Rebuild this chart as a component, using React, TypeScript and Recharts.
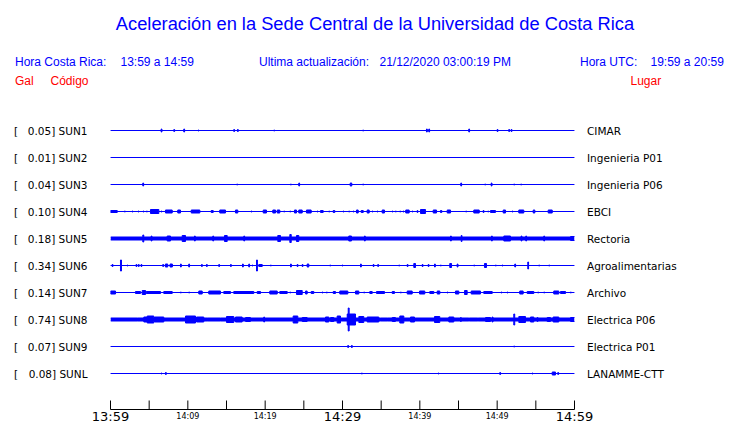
import { ComposedChart, Area, XAxis, YAxis } from "recharts";

// station list, top to bottom
const codes = ["SUN1", "SUN2", "SUN3", "SUN4", "SUN5", "SUN6", "SUN7", "SUN8", "SUN9", "SUNL"];
const peaks = ["0.05", "0.01", "0.04", "0.10", "0.18", "0.34", "0.14", "0.74", "0.07", "0.08"];
const places = [
  "CIMAR",
  "Ingenieria P01",
  "Ingenieria P06",
  "EBCI",
  "Rectoria",
  "Agroalimentarias",
  "Archivo",
  "Electrica P06",
  "Electrica P01",
  "LANAMME-CTT",
];
// background noise level of each trace
const noise = [0, 0, 0, 0, 2, 0, 0, 2, 0, 0];

// minutes after 13:59
const minuteTicks = [0, 5, 10, 15, 20, 25, 30, 35, 40, 45, 50, 55, 60];
const tickLabels = ["13:59", "", "14:09", "", "14:19", "", "14:29", "", "14:39", "", "14:49", "", "14:59"];
const bigLabels = ["13:59", "14:29", "14:59"];

// bursts: [start minute, end minute, amplitude]
const sun1: number[][] = [
  [6.55, 6.65, 2], [8.19, 8.29, 1.5], [9.48, 9.58, 2], [11.34, 11.44, 1], [15.94, 16.04, 1.5],
  [16.42, 16.52, 1.5], [21.12, 21.22, 1], [32.62, 32.72, 1], [40.86, 40.96, 2], [41.16, 41.26, 2],
  [46.33, 46.43, 2], [50.0, 50.1, 1.5], [51.5, 51.6, 1.5], [51.81, 51.91, 1.5],
];
const sun2: number[][] = [];
const sun3: number[][] = [
  [4.18, 4.28, 2], [16.33, 16.43, 1], [23.28, 23.38, 1], [24.35, 24.45, 2], [31.0, 31.2, 2],
  [32.62, 32.72, 1], [45.3, 45.4, 2], [48.4, 48.5, 1], [49.23, 49.33, 2], [52.15, 52.25, 1],
  [53.05, 53.15, 1],
];
const sun4: number[][] = [
  [0, 0.87, 1.5], [1.81, 1.91, 1], [2.81, 2.91, 1], [3.58, 3.68, 1], [4.23, 4.33, 1], [4.66, 4.76, 1],
  [5.17, 6.25, 2.5], [6.56, 6.66, 1], [7.11, 7.98, 2], [8.7, 9.05, 2], [10.44, 11.55, 2],
  [13.02, 13.28, 1.5], [14.13, 14.87, 2], [16.16, 16.46, 2], [18.19, 18.29, 1], [19.75, 20.17, 2],
  [20.99, 21.34, 2], [21.56, 21.89, 2], [22.41, 22.51, 1], [23.19, 23.29, 1], [23.79, 24.05, 2],
  [24.35, 24.79, 2], [25.34, 25.95, 2], [26.73, 26.83, 1], [27.16, 27.5, 1.5], [28.23, 28.33, 1],
  [28.8, 29.0, 1.5], [30.09, 30.19, 1], [30.81, 30.91, 1], [31.38, 31.48, 1], [31.81, 32.03, 2],
  [32.42, 32.68, 1.5], [33.19, 33.45, 2], [33.84, 33.94, 1], [34.49, 34.59, 1], [35.13, 35.43, 2],
  [36.43, 36.53, 1], [36.85, 36.95, 1], [37.41, 37.51, 1], [37.85, 37.95, 1], [38.18, 38.62, 2],
  [39.01, 39.11, 1], [39.66, 39.74, 1.5], [40.09, 40.73, 2.5], [41.73, 42.16, 2], [42.67, 42.84, 1.5],
  [43.54, 43.97, 2], [45.94, 46.04, 1], [46.98, 47.68, 2], [48.19, 48.29, 1.5], [48.79, 48.89, 1],
  [49.14, 49.78, 1.5], [50.78, 51.08, 2], [51.94, 52.04, 1], [52.8, 53.44, 2], [54.66, 54.87, 2],
  [56.6, 57.12, 2],
];
const sun5: number[][] = [
  [4.18, 4.3, 4], [5.26, 5.36, 3], [7.33, 7.76, 3], [9.27, 9.7, 3.5], [10.86, 10.96, 3],
  [13.23, 13.33, 3], [14.74, 15.09, 3.5], [17.24, 17.34, 3], [21.63, 21.98, 3.5], [23.19, 23.37, 4.5],
  [24.05, 24.35, 3.5], [30.81, 31.16, 3], [32.84, 32.94, 3], [43.97, 44.07, 3], [45.35, 45.45, 3.5],
  [49.27, 49.37, 3], [50.86, 51.72, 3], [53.1, 53.2, 3], [53.7, 53.8, 3], [56.03, 56.13, 3],
  [59.48, 60, 2.5],
];
const sun6: number[][] = [
  [0.22, 0.32, 1.5], [1.29, 1.42, 6], [2.16, 2.26, 1], [3.3, 3.4, 1.5], [3.6, 3.7, 1.5], [3.95, 4.05, 1.5],
  [6.76, 6.86, 1.5], [7.1, 7.4, 2], [7.7, 8.0, 2], [9.05, 9.15, 2], [10.12, 10.22, 2], [11.77, 11.87, 1.5],
  [12.41, 12.51, 1.5], [14.0, 14.1, 1.5], [15.52, 15.62, 1.5], [17.07, 17.17, 2], [17.88, 17.98, 2],
  [18.32, 18.42, 1], [18.88, 19.0, 6], [19.18, 19.62, 1.5], [20.69, 20.79, 1], [23.28, 23.38, 2],
  [24.14, 24.24, 1.5], [24.79, 24.89, 1.5], [25.43, 25.64, 2], [28.36, 28.46, 1], [29.96, 30.06, 1],
  [32.33, 32.43, 2], [33.97, 34.07, 1.5], [34.56, 34.66, 1.5], [37.28, 37.38, 1], [38.37, 38.47, 1.5],
  [39.22, 39.44, 2.5], [40.31, 40.41, 1.5], [41.08, 41.18, 1.5], [41.9, 42.0, 2], [42.67, 42.77, 1],
  [43.87, 44.1, 2.5], [44.83, 44.93, 2], [46.98, 47.08, 1], [48.36, 48.62, 2.5], [49.78, 49.88, 1],
  [50.65, 50.75, 1], [52.28, 52.38, 2], [53.96, 54.06, 4], [55.38, 55.48, 1], [56.68, 56.78, 1],
];
const sun7: number[][] = [
  [0, 0.65, 2], [3.23, 3.88, 1.5], [4.1, 4.53, 2.5], [4.62, 6.47, 1.5], [6.89, 7.98, 1.5],
  [9.05, 9.15, 1], [10.12, 10.22, 1], [11.42, 11.86, 2], [12.71, 14.22, 2], [14.65, 15.52, 1.5],
  [15.94, 18.53, 1.5], [18.97, 19.4, 1.5], [20.6, 21.56, 2], [21.89, 22.85, 1.5], [23.19, 23.29, 1],
  [24.05, 24.79, 2.5], [25.22, 25.43, 2], [25.95, 26.29, 1.5], [27.37, 27.47, 1], [27.93, 28.03, 1],
  [28.8, 29.09, 1.5], [29.65, 30.69, 2], [31.68, 32.11, 2], [32.75, 32.85, 1], [33.53, 33.84, 1.5],
  [34.4, 35.43, 1.5], [36.43, 36.72, 1.5], [37.5, 37.6, 1], [38.37, 39.01, 2], [39.96, 40.64, 2],
  [41.29, 41.81, 1.5], [42.25, 42.58, 2], [43.54, 43.64, 1], [44.61, 45.04, 2], [45.78, 46.12, 2.5],
  [46.64, 47.84, 2], [48.27, 49.36, 1.5], [50.52, 50.62, 1], [51.3, 51.4, 1], [52.92, 53.36, 2],
  [53.88, 54.74, 1.5], [55.25, 55.35, 1], [56.03, 56.13, 1], [57.32, 57.97, 2], [58.19, 58.84, 1.5],
  [59.48, 59.58, 1],
];
const sun8: number[][] = [
  [3.45, 3.55, 2], [4.31, 4.75, 3], [4.75, 5.6, 4], [5.69, 6.89, 3], [6.89, 9.48, 2], [9.7, 10.99, 4],
  [11.12, 12.06, 3], [12.5, 14.22, 2], [15.0, 15.94, 3.5], [16.16, 17.03, 3], [17.46, 18.1, 2.5],
  [19.82, 19.92, 3], [23.62, 24.22, 4], [24.79, 25.43, 2.5], [27.8, 28.23, 3], [28.45, 28.88, 2.5],
  [29.31, 29.74, 4], [30.61, 30.74, 6], [30.74, 30.86, 12], [30.86, 31.68, 6], [32.11, 32.75, 3.5],
  [33.19, 34.69, 3], [34.91, 35.78, 2], [36.43, 36.85, 2.5], [37.41, 37.93, 4], [38.79, 39.31, 3],
  [41.9, 42.58, 3.5], [43.75, 44.39, 3], [45.26, 45.36, 2.5], [46.33, 46.43, 2], [47.42, 47.63, 2],
  [48.49, 49.14, 2.5], [49.36, 49.46, 3], [52.15, 52.27, 6], [52.8, 53.66, 3.5], [54.31, 54.74, 3],
  [55.17, 55.27, 2.5], [56.47, 56.9, 2.5], [57.24, 57.97, 3], [59.48, 60, 2.5],
];
const sun9: number[][] = [
  [30.68, 30.78, 1.5], [31.16, 31.26, 1.5], [52.15, 52.25, 1],
];
const sunl: number[][] = [
  [6.56, 6.66, 1], [7.11, 7.21, 1.5], [32.46, 32.56, 1], [42.37, 42.47, 1], [50.34, 50.44, 1.5],
  [54.53, 54.63, 1], [57.12, 57.54, 2], [57.84, 57.94, 1.5],
];

const bursts = [sun1, sun2, sun3, sun4, sun5, sun6, sun7, sun8, sun9, sunl];

const SPACING = 27;
const STROKE = 1;
const offsets = codes.map((_, i) => (codes.length - i) * SPACING);
const yDomain = [-SPACING / 3, (codes.length + 1) * SPACING];

// amplitudes were read to the outer edge of the drawn trace, so take off half the stroke
function band(off: number, a: number) {
  const h = Math.max(0, a - STROKE / 2);
  return [off - h, off + h];
}

function traceRows(i: number) {
  const off = offsets[i];
  const n = noise[i];
  const rows = [{ t: 0, v: band(off, n) }];
  for (const [t0, t1, a] of bursts[i]) {
    rows.push({ t: t0, v: band(off, a) });
    rows.push({ t: t1, v: band(off, n) });
  }
  rows.push({ t: 60, v: band(off, n) });
  return rows;
}

const BLUE = "#0000ff";
const RED = "#ff0000";
const SANS = "'Liberation Sans', Arial, sans-serif";
const DEJAVU = "'DejaVu Sans', sans-serif";

function TimeTick(props: any) {
  const { x, y, payload } = props;
  const label = tickLabels[minuteTicks.indexOf(payload.value)];
  const big = bigLabels.includes(label);
  return (
    <g>
      <line x1={x} x2={x} y1={y - 9} y2={y} stroke="#000" strokeWidth={1} />
      {label && (
        <text
          x={x}
          y={big ? 421 : 419}
          textAnchor="middle"
          fontFamily={DEJAVU}
          fontSize={big ? 13 : 8}
          fill="#000"
        >
          {label}
        </text>
      )}
    </g>
  );
}

function CodeTick(props: any) {
  const { y, payload } = props;
  const i = offsets.indexOf(payload.value);
  if (i < 0) return null;
  return (
    <g fontFamily={DEJAVU} fontSize={10.5} fill="#000">
      <text x={14} y={y + 4}>[</text>
      <text x={87.5} y={y + 4} textAnchor="end">{`${peaks[i]}] ${codes[i]}`}</text>
    </g>
  );
}

function PlaceTick(props: any) {
  const { y, payload } = props;
  const i = offsets.indexOf(payload.value);
  if (i < 0) return null;
  return (
    <text x={587} y={y + 4} fontFamily={DEJAVU} fontSize={10.5} fill="#000">
      {places[i]}
    </text>
  );
}

export default function App() {
  return (
    <div style={{ position: "absolute", left: 0, top: 0, width: 740, height: 423, background: "#fff" }}>
      <ComposedChart
        width={740}
        height={423}
        margin={{ top: 103.5, right: 0, bottom: 0, left: 0 }}
        style={{ position: "absolute", left: 0, top: 0 }}
      >
        <XAxis
          dataKey="t"
          type="number"
          domain={[0, 60]}
          ticks={minuteTicks}
          interval={0}
          height={13.5}
          tickSize={0}
          tickMargin={0}
          tickLine={false}
          axisLine={{ stroke: "#000", strokeWidth: 1 }}
          tick={<TimeTick />}
          allowDataOverflow
        />
        <YAxis
          yAxisId="left"
          type="number"
          domain={yDomain}
          ticks={offsets}
          interval={0}
          width={110.5}
          axisLine={false}
          tickLine={false}
          tick={<CodeTick />}
          allowDataOverflow
        />
        <YAxis
          yAxisId="right"
          orientation="right"
          type="number"
          domain={yDomain}
          ticks={offsets}
          interval={0}
          width={165.5}
          axisLine={false}
          tickLine={false}
          tick={<PlaceTick />}
          allowDataOverflow
        />
        {codes.map((c, i) => (
          <Area
            key={c}
            yAxisId="left"
            data={traceRows(i)}
            dataKey="v"
            type="stepAfter"
            stroke={BLUE}
            strokeWidth={STROKE}
            fill={BLUE}
            fillOpacity={1}
            dot={false}
            activeDot={false}
            isAnimationActive={false}
          />
        ))}
      </ComposedChart>
      <svg width={740} height={110} style={{ position: "absolute", left: 0, top: 0 }}>
        <text x={375} y={29.5} textAnchor="middle" fontFamily={SANS} fontSize={18.3} fill={BLUE}>
          Aceleración en la Sede Central de la Universidad de Costa Rica
        </text>
        <g fontFamily={SANS} fontSize={12} fill={BLUE}>
          <text x={15} y={65.5}>Hora Costa Rica:</text>
          <text x={120.5} y={65.5}>13:59 a 14:59</text>
          <text x={259} y={65.5}>Ultima actualización:</text>
          <text x={379.5} y={65.5}>21/12/2020 03:00:19 PM</text>
          <text x={580} y={65.5}>Hora UTC:</text>
          <text x={650.5} y={65.5}>19:59 a 20:59</text>
        </g>
        <g fontFamily={SANS} fontSize={12} fill={RED}>
          <text x={15} y={85}>Gal</text>
          <text x={50.5} y={85}>Código</text>
          <text x={630.5} y={85}>Lugar</text>
        </g>
      </svg>
    </div>
  );
}
